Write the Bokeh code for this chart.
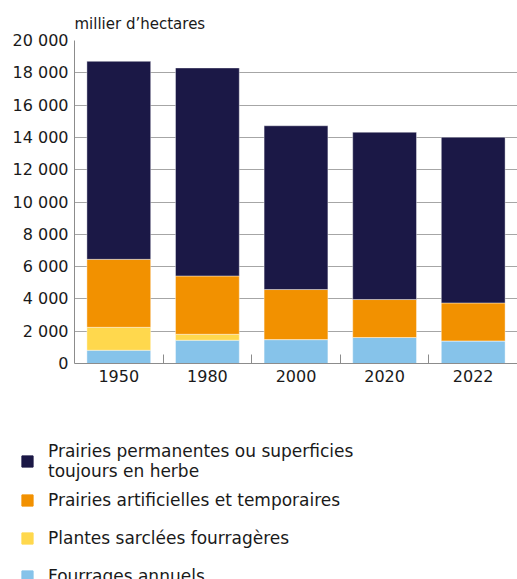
from bokeh.plotting import figure
from bokeh.layouts import column
from bokeh.models import (FixedTicker, Legend, LegendItem, Title, Range1d, ColumnDataSource)
from bokeh.embed import file_html
from bokeh.resources import INLINE

# ---- data (milliers d'hectares) ----
years = ["1950", "1980", "2000", "2020", "2022"]
fourrages_annuels = [820, 1440, 1480, 1610, 1400]
plantes_sarclees = [1420, 370, 0, 0, 0]
prairies_artificielles = [4210, 3610, 3100, 2350, 2350]
prairies_permanentes = [12260, 12880, 10140, 10360, 10260]
y_ticks = [0, 2000, 4000, 6000, 8000, 10000, 12000, 14000, 16000, 18000, 20000]

series_names = ["fourrages", "sarclees", "artificielles", "permanentes"]
series_labels = ["Fourrages annuels", "Plantes sarclées fourragères",
                 "Prairies artificielles et temporaires",
                 "Prairies permanentes ou superficies\ntoujours en herbe"]
colors = ["#86c3ea", "#ffd84d", "#f29100", "#1b1846"]

FONT = "DejaVu Sans"
TXT = "#1a1a1a"

x = list(range(len(years)))
source = ColumnDataSource(dict(
    x=x,
    fourrages=fourrages_annuels,
    sarclees=plantes_sarclees,
    artificielles=prairies_artificielles,
    permanentes=prairies_permanentes,
))

p = figure(width=517, height=429, output_backend="svg", toolbar_location=None,
           x_range=Range1d(-0.5, 4.5), y_range=Range1d(0, 20000),
           min_border_left=74, min_border_right=0, min_border_top=40,
           min_border_bottom=66, frame_align=False)

renderers = p.vbar_stack(series_names, x="x", width=0.72, source=source,
                         color=colors, line_color="white", line_alpha=0.5,
                         line_width=0.8)

p.outline_line_color = None
p.xgrid.grid_line_color = None
p.ygrid.grid_line_color = "#a6a6a6"
p.ygrid.grid_line_width = 1

p.yaxis.ticker = FixedTicker(ticks=y_ticks)
p.yaxis.major_label_overrides = {v: f"{v:,}".replace(",", " ") for v in y_ticks}
p.yaxis.major_tick_out = 0
p.yaxis.major_tick_in = 0
p.yaxis.minor_tick_out = 0
p.yaxis.minor_tick_in = 0
p.yaxis.axis_line_color = "#8c8c8c"
p.yaxis.major_label_text_font = FONT
p.yaxis.major_label_text_font_size = "16px"
p.yaxis.major_label_text_color = TXT
p.yaxis.major_label_standoff = 6

p.xaxis.ticker = FixedTicker(ticks=x, minor_ticks=[0.5, 1.5, 2.5, 3.5])
p.xaxis.major_label_overrides = {i: y for i, y in zip(x, years)}
p.xaxis.major_tick_out = 0
p.xaxis.major_tick_in = 0
p.xaxis.minor_tick_out = 0
p.xaxis.minor_tick_in = 9
p.xaxis.minor_tick_line_color = "#8c8c8c"
p.xaxis.axis_line_color = "#8c8c8c"
p.xaxis.major_label_text_font = FONT
p.xaxis.major_label_text_font_size = "16px"
p.xaxis.major_label_text_color = TXT
p.xaxis.major_label_standoff = 6

p.add_layout(Title(text="millier d\u2019hectares", align="left", text_font=FONT,
                   text_font_size="15px", text_color=TXT, text_font_style="normal",
                   standoff=15), "above")

# legend in its own panel below the chart
lg = figure(width=517, height=150, output_backend="svg", toolbar_location=None,
            x_range=Range1d(0, 1), y_range=Range1d(0, 1),
            min_border=0, min_border_left=0, min_border_right=0,
            min_border_top=0, min_border_bottom=0,
            x_axis_type=None, y_axis_type=None, frame_align=False)
lg.outline_line_color = None
lg.grid.visible = False
swatch_src = ColumnDataSource(dict(x=[-10], top=[-10]))
swatches = [lg.vbar(x="x", top="top", width=0.1, source=swatch_src, color=c) for c in colors]

items = [LegendItem(label=series_labels[i], renderers=[swatches[i]])
         for i in [3, 2, 1, 0]]
legend = Legend(items=items, location=(20, -16), orientation="vertical",
                padding=0, margin=0, spacing=0, glyph_width=14, glyph_height=14,
                label_standoff=14, label_text_font=FONT, label_text_font_size="17px",
                label_text_color=TXT, label_height=38,
                border_line_color=None, background_fill_alpha=0)
lg.add_layout(legend, "center")

open("out.html", "w").write(file_html(column(p, lg, spacing=0), INLINE))
